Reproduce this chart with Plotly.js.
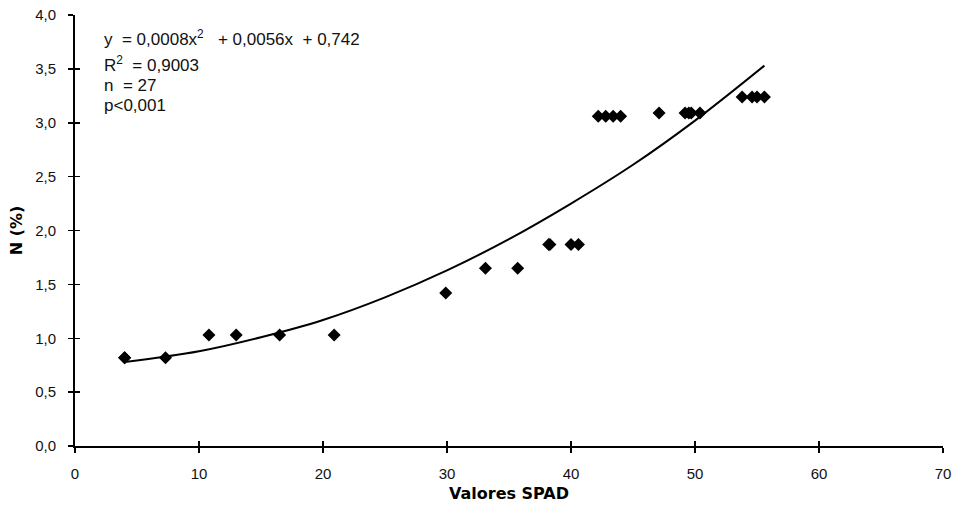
<!DOCTYPE html>
<html>
<head>
<meta charset="utf-8">
<script src="https://cdn.plot.ly/plotly-3.0.1.min.js"></script>
<style>html,body{margin:0;padding:0;background:#fff}#chart{width:954px;height:513px}</style>
</head>
<body>
<div id="chart"></div>
<script>
// Observed data points (SPAD reading vs N %)
const spadValues = [4.0, 4.0, 7.3, 10.8, 13.0, 16.5, 20.9, 29.9, 33.1, 35.7, 38.2, 38.3, 40.0, 40.6,
  42.2, 42.8, 43.4, 44.0, 47.1, 49.2, 49.5, 49.7, 50.4, 53.8, 54.6, 55.0, 55.6];
const nPercent = [0.82, 0.82, 0.82, 1.03, 1.03, 1.03, 1.03, 1.42, 1.65, 1.65, 1.87, 1.87, 1.87, 1.87,
  3.06, 3.06, 3.06, 3.06, 3.09, 3.09, 3.09, 3.09, 3.09, 3.24, 3.24, 3.24, 3.24];
// Trend line
const trendX = [4, 10, 15, 20, 25, 30, 35, 40, 45, 50, 55.6];
const trendY = [0.78, 0.88, 1.01, 1.17, 1.38, 1.63, 1.92, 2.25, 2.61, 3.02, 3.53];
// Tick labels
const xTicks = [0, 10, 20, 30, 40, 50, 60, 70];
const yTicks = [0, 0.5, 1, 1.5, 2, 2.5, 3, 3.5, 4];
const yTickText = ['0,0', '0,5', '1,0', '1,5', '2,0', '2,5', '3,0', '3,5', '4,0'];
const statLines = ['y  = 0,0008x<sup>2</sup>   + 0,0056x  + 0,742', 'R<sup>2</sup>  = 0,9003', 'n  = 27', 'p<0,001'];

const FONT = 'Liberation Sans, Arial, sans-serif';
const BOLD = 'DejaVu Sans, Verdana, sans-serif';

const traces = [
  {x: trendX, y: trendY, mode: 'lines', type: 'scatter', line: {color: '#000', width: 2, shape: 'spline'}, hoverinfo: 'skip', showlegend: false},
  {x: spadValues, y: nPercent, mode: 'markers', type: 'scatter', marker: {symbol: 'diamond', size: 10, color: '#000'}, showlegend: false},
  {x: [null], y: [null], xaxis: 'x2', yaxis: 'y2', showlegend: false}
];

const axisCommon = {
  showgrid: false, zeroline: false, showline: true, linecolor: '#000', linewidth: 2,
  ticks: 'outside', ticklen: 5, tickwidth: 1.5, tickcolor: '#000',
  tickfont: {family: FONT, size: 15, color: '#111'}
};

const layout = {
  width: 954, height: 513,
  margin: {l: 75, r: 11, t: 15, b: 67},
  paper_bgcolor: '#fff', plot_bgcolor: '#fff',
  showlegend: false,
  xaxis: Object.assign({}, axisCommon, {
    range: [0, 70], tickvals: xTicks, ticktext: xTicks.map(String),
    ticklabelstandoff: 8,
    title: {text: '<b>Valores SPAD</b>', font: {family: BOLD, size: 16, color: '#000'}, standoff: 7}
  }),
  yaxis: Object.assign({}, axisCommon, {
    range: [0, 4], tickvals: yTicks, ticktext: yTickText,
    ticklabelstandoff: 9,
    title: {text: '<b>N (%)</b>', font: {family: BOLD, size: 16, color: '#000'}, standoff: 9}
  }),
  xaxis2: {overlaying: 'x', matches: 'x', range: [0, 70], tickvals: xTicks, ticks: 'inside', ticklen: 5, tickwidth: 1.5, tickcolor: '#000', showticklabels: false, showgrid: false, zeroline: false, showline: false, anchor: 'y'},
  yaxis2: {overlaying: 'y', matches: 'y', range: [0, 4], tickvals: yTicks, ticks: 'inside', ticklen: 5, tickwidth: 1.5, tickcolor: '#000', showticklabels: false, showgrid: false, zeroline: false, showline: false, anchor: 'x'},
  annotations: statLines.map((t, i) => ({
    text: t, xref: 'paper', yref: 'paper', x: 0.031, y: [0.9467, 0.8863, 0.8353, 0.7889][i],
    xanchor: 'left', yanchor: 'middle', showarrow: false, align: 'left',
    font: {family: FONT, size: 17, color: '#111'}
  }))
};

Plotly.newPlot('chart', traces, layout, {displayModeBar: false, staticPlot: true});
</script>
</body>
</html>
